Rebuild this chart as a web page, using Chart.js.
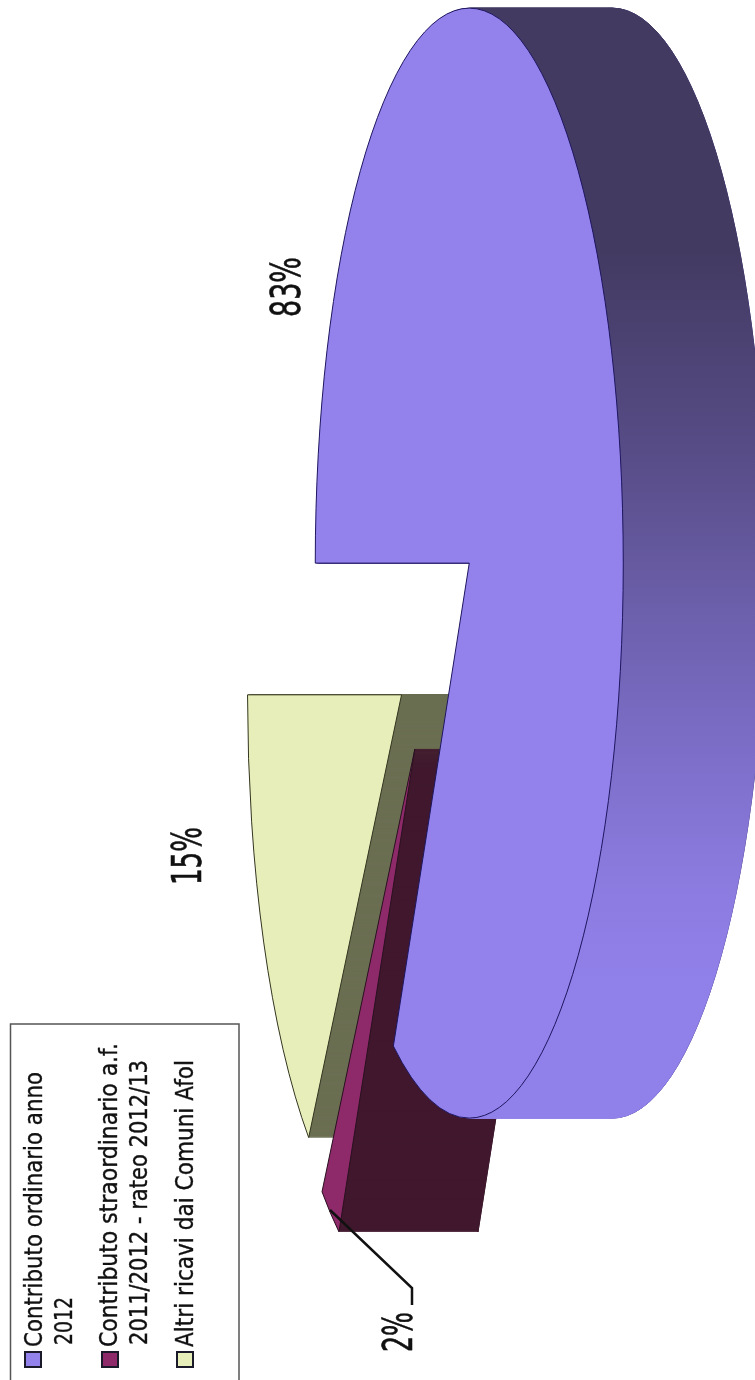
<!DOCTYPE html>
<html>
<head>
<meta charset="utf-8">
<style>
  html, body { margin: 0; padding: 0; background: #fff; }
  canvas { display: block; }
</style>
<script src="https://cdn.jsdelivr.net/npm/chart.js@4"></script>
</head>
<body>
<canvas id="myChart" width="755" height="1380"></canvas>
<script>
const categories = ['Contributo ordinario anno 2012', 'Contributo straordinario a.f. 2011/2012 - rateo 2012/13', 'Altri ricavi dai Comuni Afol'];
const legendLines = [['Contributo ordinario anno', '2012'], ['Contributo straordinario a.f.', '2011/2012 - rateo 2012/13'], ['Altri ricavi dai Comuni Afol']];
const values = [83.2, 2.1, 14.7];
const faceColors = ['#9382ec', '#8e2a6a', '#e7eeb9'];
const edgeColors = ['#1d1660', '#2a1020', '#33351f'];

// the pie is flattened and pushed into depth by hand, chart.js only knows a flat circle
const pie = { x: 436, y: 633, rx: 154, ry: 555, explode: 0.25, depth: [143, 139, 143] };

const font = '"DejaVu Sans Condensed", "DejaVu Sans", sans-serif';

function sideColor(ctx, i) {
    if (i == 1) return '#40182d';
    if (i == 2) return '#6b6e52';
    const g = ctx.createLinearGradient(0, 0, 0, 1380);
    g.addColorStop(250 / 1380, '#433a62');
    g.addColorStop(450 / 1380, '#574c86');
    g.addColorStop(600 / 1380, '#6b5ea9');
    g.addColorStop(750 / 1380, '#7c6ec8');
    g.addColorStop(900 / 1380, '#8d7de2');
    g.addColorStop(1000 / 1380, '#9080ea');
    return g;
}

function moveToSlice(ctx, arc, depth) {
    const mid = (arc.startAngle + arc.endAngle) / 2;
    const sx = pie.rx / arc.outerRadius;
    const sy = pie.ry / arc.outerRadius;
    const ax = pie.x + pie.explode * pie.rx * Math.cos(mid) + depth;
    const ay = pie.y + pie.explode * pie.ry * Math.sin(mid);
    ctx.setTransform(sx, 0, 0, sy, ax - arc.x * sx, ay - arc.y * sy);
}

function tracePath(ctx, arc) {
    ctx.beginPath();
    ctx.moveTo(arc.x, arc.y);
    ctx.arc(arc.x, arc.y, arc.outerRadius, arc.startAngle, arc.endAngle);
    ctx.closePath();
}

function outline(ctx, arc, depth, color) {
    moveToSlice(ctx, arc, depth);
    tracePath(ctx, arc);
    ctx.setTransform(1, 0, 0, 1, 0, 0);
    ctx.lineWidth = 1;
    ctx.strokeStyle = color;
    ctx.stroke();
}

// text runs bottom to top, squeezed to the length it has in the scan
function upText(ctx, text, x, y, size, length) {
    ctx.save();
    ctx.font = size + 'px ' + font;
    const w = ctx.measureText(text).width;
    ctx.translate(x, y);
    ctx.rotate(-Math.PI / 2);
    ctx.scale(length / w, 1);
    ctx.fillStyle = '#111';
    ctx.strokeStyle = '#111';
    ctx.lineWidth = size / 70;
    ctx.textBaseline = 'alphabetic';
    ctx.textAlign = 'left';
    ctx.fillText(text, 0, 0);
    ctx.strokeText(text, 0, 0);
    ctx.restore();
}

const pie3d = {
    id: 'pie3d',
    beforeDatasetsDraw(chart) {
        const ctx = chart.ctx;
        const arcs = chart.getDatasetMeta(0).data;
        ctx.save();
        [2, 1, 0].forEach(i => {
            const arc = arcs[i];
            outline(ctx, arc, pie.depth[i], edgeColors[i]);
            const side = sideColor(ctx, i);
            for (let d = pie.depth[i]; d > 0; d--) {
                moveToSlice(ctx, arc, d);
                tracePath(ctx, arc);
                ctx.setTransform(1, 0, 0, 1, 0, 0);
                ctx.fillStyle = side;
                ctx.strokeStyle = side;
                ctx.lineWidth = 0.8;
                ctx.fill();
                ctx.stroke();
            }
            moveToSlice(ctx, arc, 0);
            arc.draw(ctx);
            outline(ctx, arc, 0, edgeColors[i]);
        });
        ctx.restore();
        return false;
    },
    afterDraw(chart) {
        const ctx = chart.ctx;

        // percent labels
        upText(ctx, Math.round(values[0]) + '%', 300, 317, 41, 60);
        upText(ctx, Math.round(values[2]) + '%', 201, 885, 41, 58);
        upText(ctx, Math.round(values[1]) + '%', 412, 1352, 41, 40);

        // leader of the 2% label
        ctx.strokeStyle = '#111';
        ctx.lineWidth = 2.5;
        ctx.beginPath();
        ctx.moveTo(330, 1210);
        ctx.lineTo(412, 1288);
        ctx.lineTo(412, 1305);
        ctx.stroke();

        // legend box, its lower edge is cut off by the scan
        ctx.strokeStyle = '#555';
        ctx.lineWidth = 1.5;
        ctx.beginPath();
        ctx.moveTo(10.5, 1381);
        ctx.lineTo(10.5, 1024);
        ctx.lineTo(239, 1024);
        ctx.lineTo(239, 1381);
        ctx.stroke();

        const rows = [
            { box: 25, lines: [[42, 1347, 275], [72, 1345, 48]] },
            { box: 102, lines: [[117, 1347, 304], [147, 1345, 285]] },
            { box: 177, lines: [[193, 1347, 287]] }
        ];
        rows.forEach((row, i) => {
            ctx.fillStyle = faceColors[i];
            ctx.strokeStyle = '#1a1a2a';
            ctx.lineWidth = 2;
            ctx.fillRect(row.box, 1352, 16, 15);
            ctx.strokeRect(row.box, 1352, 16, 15);
            row.lines.forEach((l, n) => {
                upText(ctx, legendLines[i][n], l[0], l[1], 25, l[2]);
            });
        });
    }
};

new Chart(document.getElementById('myChart').getContext('2d'), {
    type: 'pie',
    data: {
        labels: categories,
        datasets: [{
            data: values,
            backgroundColor: faceColors,
            borderWidth: 0
        }]
    },
    options: {
        responsive: false,
        animation: false,
        rotation: -90,
        layout: { padding: 0 },
        plugins: { legend: { display: false }, tooltip: { enabled: false }, title: { display: false } }
    },
    plugins: [pie3d]
});
</script>
</body>
</html>
